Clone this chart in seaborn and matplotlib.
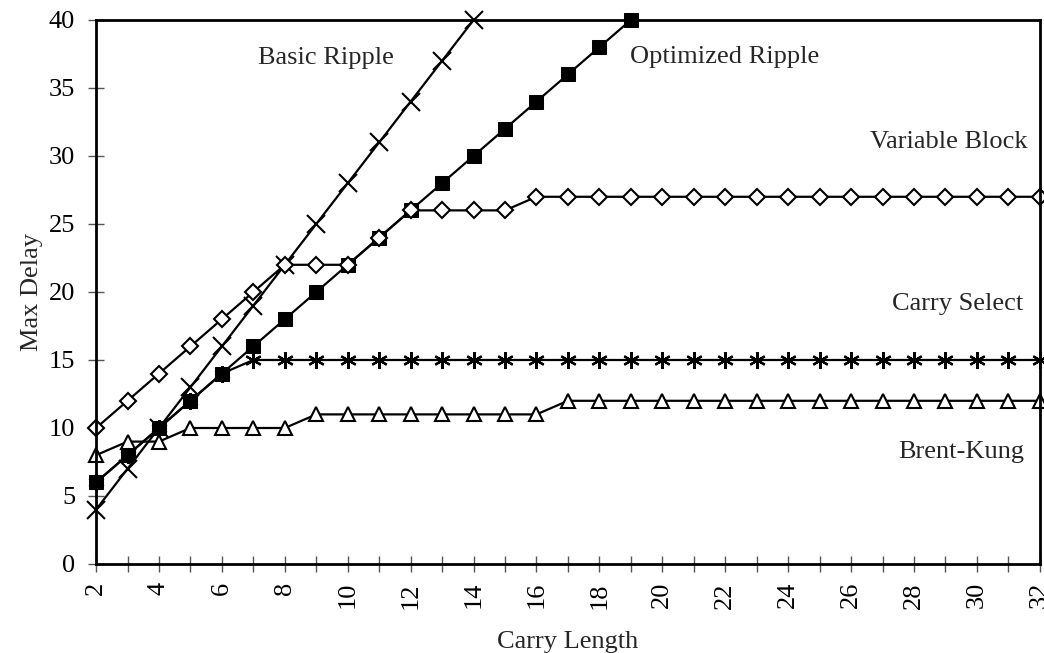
"""Max delay vs carry length for several adder designs."""

import matplotlib
matplotlib.use('Agg')
import matplotlib.pyplot as plt
import seaborn as sns

carry_length = list(range(2, 33))

# values
basic_ripple = [4, 7, 10, 13, 16, 19, 22, 25, 28, 31, 34, 37, 40]
optimized_ripple = [6, 8, 10, 12, 14, 16, 18, 20, 22, 24, 26, 28, 30, 32, 34, 36, 38, 40]
variable_block = [10, 12, 14, 16, 18, 20, 22, 22, 22, 24, 26, 26, 26, 26] + [27] * 17
carry_select = [6, 8, 10, 12, 14] + [15] * 26
brent_kung = [8, 9, 9, 10, 10, 10, 10] + [11] * 8 + [12] * 16

label_names = ['Basic Ripple', 'Optimized Ripple', 'Variable Block', 'Carry Select', 'Brent-Kung']
label_x = [9.3, 18.97, 31.62, 31.46, 31.49]
label_y = [37.2, 37.3, 31.0, 19.1, 8.2]
label_ha = ['center', 'left', 'right', 'right', 'right']

sns.set_style('ticks')
plt.rcParams['font.family'] = ['Liberation Serif', 'DejaVu Serif']

fig = plt.figure(figsize=(10.44, 6.53), dpi=100)
ax = fig.add_axes([0.092, 0.1363, 0.904, 0.8331])

line_kw = dict(color='black', linewidth=1.6, markeredgecolor='black', clip_on=False)

# carry select first so the squares sit on top where they overlap
sns.lineplot(x=carry_length, y=carry_select, marker=(6, 2, 0), markersize=12,
             markeredgewidth=1.6, ax=ax, **line_kw)
sns.lineplot(x=carry_length[:len(basic_ripple)], y=basic_ripple, marker='x', markersize=13,
             markeredgewidth=1.5, ax=ax, **line_kw)
sns.lineplot(x=carry_length[:len(optimized_ripple)], y=optimized_ripple, marker='s', markersize=10.5,
             markerfacecolor='black', ax=ax, **line_kw)
sns.lineplot(x=carry_length, y=variable_block, marker='D', markersize=8,
             markerfacecolor='white', markeredgewidth=1.5, ax=ax, **line_kw)
sns.lineplot(x=carry_length, y=brent_kung, marker='^', markersize=10,
             markerfacecolor='white', markeredgewidth=1.5, ax=ax, **line_kw)

for name, lx, ly, ha in zip(label_names, label_x, label_y, label_ha):
    ax.text(lx, ly, name, ha=ha, va='center', fontsize=19)

ax.set_xlim(2, 32)
ax.set_ylim(0, 40)
ax.set_xticks(carry_length)
ax.set_xticklabels([str(c) if c % 2 == 0 else '' for c in carry_length], rotation=90)
ax.set_yticks(range(0, 41, 5))
ax.tick_params(direction='inout', length=12, width=1.0, labelsize=19,
               color='#555555', labelcolor='black')
ax.tick_params(axis='x', pad=7)
ax.tick_params(axis='y', pad=9)
ax.set_xlabel('Carry Length', fontsize=19, labelpad=16)
ax.set_ylabel('Max Delay', fontsize=19, labelpad=4)
for spine in ax.spines.values():
    spine.set_linewidth(2)
    spine.set_color('black')

fig.savefig('out.png', dpi=100)
plt.close(fig)
